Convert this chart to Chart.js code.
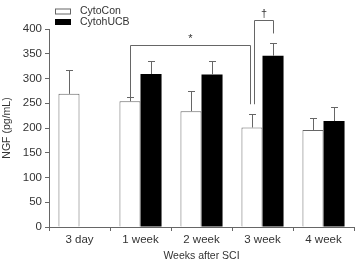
<!DOCTYPE html>
<html>
<head>
    <title>NGF after SCI</title>
    <script src="https://cdn.jsdelivr.net/npm/chart.js"></script>
    <style>
        body { margin: 0; background: #fff; }
        #wrap { width: 355px; height: 264px; }
    </style>
</head>
<body>
    <div id="wrap">
        <canvas id="myChart"></canvas>
    </div>
    <script>
        // values (pg/mL)
        const categories = ['3 day', '1 week', '2 week', '3 week', '4 week'];
        const cytoCon = [269, 254, 234, 201, 196];
        const cytoConErr = [49, 9, 41, 28, 24];
        const cytoHUCB = [null, 309, 308, 346, 214];
        const cytoHUCBErr = [null, 27, 27, 26, 28];
        const yMax = 400;
        const yStep = 50;

        // significance brackets: [dataset, category] for each end, values in pg/mL
        const brackets = [
            { label: '*', from: [0, 1], to: [0, 3], top: 368, fromEnd: 262, toEnd: 248 },
            { label: '\u2020', from: [0, 3], to: [1, 3], top: 418, fromEnd: 248, toEnd: 391 }
        ];

        const ink = '#333';
        const lineGrey = '#666';
        const font = 'Liberation Sans, Arial, sans-serif';

        const extras = {
            id: 'extras',
            afterDatasetsDraw(chart) {
                const ctx = chart.ctx;
                const y = chart.scales.y;
                const errs = [cytoConErr, cytoHUCBErr];
                ctx.save();
                ctx.strokeStyle = lineGrey;
                ctx.lineWidth = 1;
                // error bars (upper only)
                chart.data.datasets.forEach((ds, di) => {
                    const meta = chart.getDatasetMeta(di);
                    meta.data.forEach((bar, i) => {
                        const v = ds.data[i];
                        if (v == null) return;
                        const x = Math.round(bar.x) + 0.5;
                        const yTop = Math.round(y.getPixelForValue(v + errs[di][i])) + 0.5;
                        const yBar = y.getPixelForValue(v);
                        ctx.beginPath();
                        ctx.moveTo(x, yBar);
                        ctx.lineTo(x, yTop);
                        ctx.moveTo(x - 3.5, yTop);
                        ctx.lineTo(x + 3.5, yTop);
                        ctx.stroke();
                    });
                });
                // brackets
                const nudge = [[0, -2], [2, 0]];
                brackets.forEach((b, bi) => {
                    const xa = Math.round(chart.getDatasetMeta(b.from[0]).data[b.from[1]].x + nudge[bi][0]) + 0.5;
                    const xb = Math.round(chart.getDatasetMeta(b.to[0]).data[b.to[1]].x + nudge[bi][1]) + 0.5;
                    const yt = Math.round(y.getPixelForValue(b.top)) + 0.5;
                    ctx.beginPath();
                    ctx.moveTo(xa, y.getPixelForValue(b.fromEnd));
                    ctx.lineTo(xa, yt);
                    ctx.lineTo(xb, yt);
                    ctx.lineTo(xb, y.getPixelForValue(b.toEnd));
                    ctx.stroke();
                    ctx.fillStyle = ink;
                    ctx.font = '11px ' + font;
                    ctx.textAlign = 'center';
                    ctx.textBaseline = 'bottom';
                    ctx.fillText(b.label, (xa + xb) / 2, yt - 1);
                });
                ctx.restore();
            },
            afterDraw(chart) {
                // legend, stacked in the top left
                const ctx = chart.ctx;
                const x0 = chart.chartArea.left + 6;
                ctx.save();
                ctx.font = '10.5px ' + font;
                ctx.textBaseline = 'middle';
                ctx.textAlign = 'left';
                chart.data.datasets.forEach((ds, i) => {
                    const yc = 11.5 + i * 10.5;
                    ctx.fillStyle = ds.backgroundColor;
                    ctx.fillRect(x0, yc - 3, 16, 6);
                    ctx.strokeStyle = i === 0 ? lineGrey : '#000';
                    ctx.lineWidth = 1;
                    ctx.strokeRect(x0 + 0.5, yc - 2.5, 15, 5);
                    ctx.fillStyle = ink;
                    ctx.fillText(ds.label, x0 + 25, yc);
                });
                ctx.restore();
            }
        };

        var ctx = document.getElementById('myChart').getContext('2d');
        var myChart = new Chart(ctx, {
            type: 'bar',
            data: {
                labels: categories,
                datasets: [{
                    label: 'CytoCon',
                    data: cytoCon,
                    backgroundColor: '#ffffff',
                    borderColor: lineGrey,
                    borderWidth: 1
                }, {
                    label: 'CytohUCB',
                    data: cytoHUCB,
                    backgroundColor: '#000000',
                    borderColor: '#000000',
                    borderWidth: 0
                }]
            },
            options: {
                responsive: true,
                maintainAspectRatio: false,
                animation: false,
                categoryPercentage: 0.69,
                barPercentage: 1,
                layout: { padding: { left: 0, right: 1, top: 29, bottom: 0 } },
                plugins: {
                    legend: { display: false },
                    tooltip: { enabled: false }
                },
                scales: {
                    x: {
                        afterFit(scale) { scale.height = 37; },
                        border: { color: lineGrey },
                        grid: { display: true, drawOnChartArea: false, drawTicks: true, tickLength: 4, color: lineGrey },
                        ticks: { color: ink, padding: 2, font: { family: font, size: 11.5 } },
                        title: { display: true, text: 'Weeks after SCI', color: ink, padding: { top: 0, bottom: 2 }, font: { family: font, size: 10.5 } }
                    },
                    y: {
                        min: 0,
                        max: yMax,
                        afterFit(scale) { scale.width = 49; },
                        border: { color: lineGrey },
                        grid: { display: true, drawOnChartArea: false, drawTicks: true, tickLength: 4, color: lineGrey },
                        ticks: { stepSize: yStep, color: ink, padding: 3, font: { family: font, size: 11.5 } },
                        title: { display: true, text: 'NGF (pg/mL)', color: ink, padding: { top: 1, bottom: 0 }, font: { family: font, size: 10.5 } }
                    }
                }
            },
            plugins: [extras]
        });
    </script>
</body>
</html>
